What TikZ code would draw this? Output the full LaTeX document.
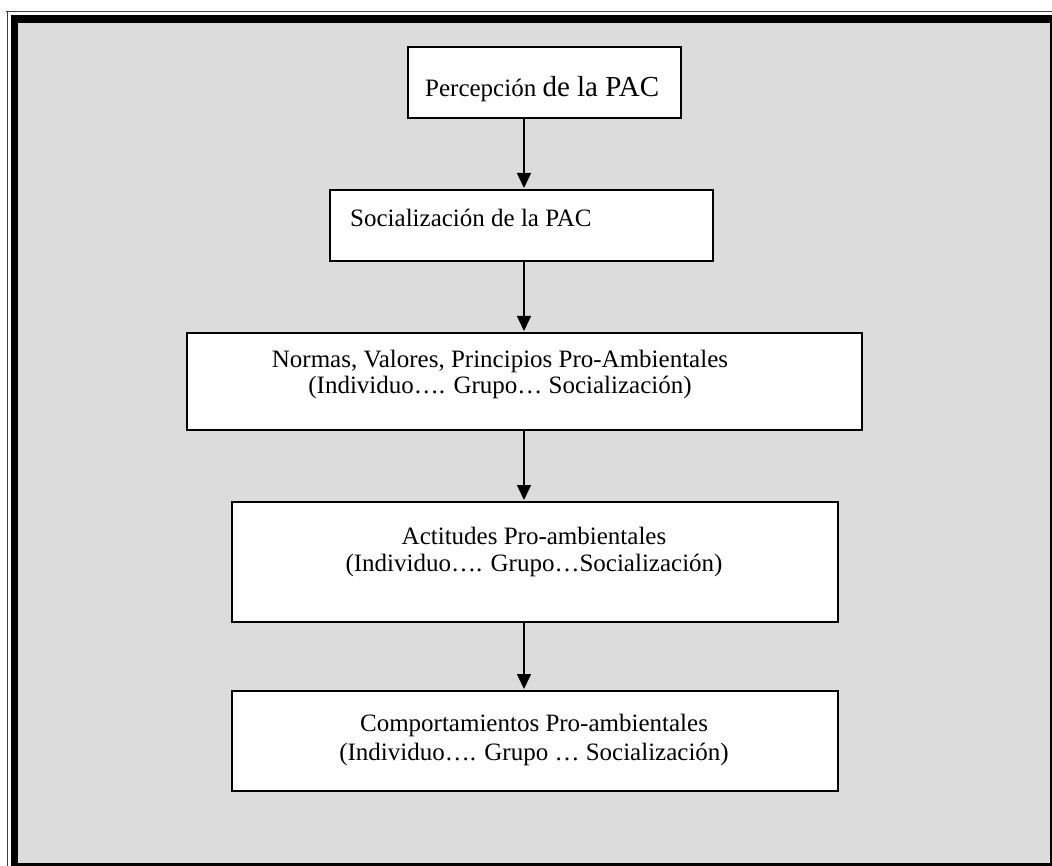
\documentclass[tikz,border=0pt]{standalone}
\usepackage{fontspec}
\setmainfont{Liberation Serif}
\usetikzlibrary{arrows.meta}
\definecolor{panel}{RGB}{220,220,220}
\begin{document}
\begin{tikzpicture}[x=1pt,y=-1pt,
  stagebox/.style={draw=black, line width=2pt, fill=white, rectangle, inner sep=0pt},
  txt/.style={inner sep=0pt, font=\fontsize{25}{29}\selectfont},
  flow/.style={line width=1.5pt, -{Triangle[length=15pt,width=14pt]}, shorten >=1pt}]
\useasboundingbox (0,0) rectangle (1052,866);
% page frame: thin outer rule, thick black rule, grey panel
\fill[black] (11,15) rectangle (1052,866);
\fill[panel] (18,23) rectangle (1049.5,862.5);
\draw[line width=1pt, black!75] (6,11.5) -- (1052,11.5);
\draw[line width=1pt, black!75] (7.5,11) -- (7.5,866);
% stages
\node[stagebox, minimum width=273pt, minimum height=71pt] (b1) at (544.5,82.5) {};
\node[stagebox, minimum width=383pt, minimum height=71pt] (b2) at (521.5,225.5) {};
\node[stagebox, minimum width=675pt, minimum height=97pt] (b3) at (524.5,381.5) {};
\node[stagebox, minimum width=606pt, minimum height=120pt] (b4) at (535,562) {};
\node[stagebox, minimum width=606pt, minimum height=100pt] (b5) at (535,741) {};
% labels
\node[txt, anchor=base west] (t1) at (425,97) {Percepción {\fontsize{29}{33}\selectfont de la PAC}};
\node[txt, anchor=base west] (t2) at (350,227) {Socialización de la PAC};
\node[txt, anchor=base] (t3a) at (500,367) {Normas, Valores, Principios Pro-Ambientales};
\node[txt, anchor=base] (t3b) at (500,394) {(Individuo…. Grupo… Socialización)};
\node[txt, anchor=base] (t4a) at (534,544) {Actitudes Pro-ambientales};
\node[txt, anchor=base] (t4b) at (534,571) {(Individuo…. Grupo…Socialización)};
\node[txt, anchor=base] (t5a) at (534,731) {Comportamientos Pro-ambientales};
\node[txt, anchor=base] (t5b) at (534,760) {(Individuo…. Grupo … Socialización)};
% connectors
\coordinate (a1) at (524,0);
\draw[flow] (a1 |- b1.south) -- (a1 |- b2.north);
\draw[flow] (a1 |- b2.south) -- (a1 |- b3.north);
\draw[flow] (a1 |- b3.south) -- (a1 |- b4.north);
\draw[flow] (a1 |- b4.south) -- (a1 |- b5.north);
\end{tikzpicture}
\end{document}
